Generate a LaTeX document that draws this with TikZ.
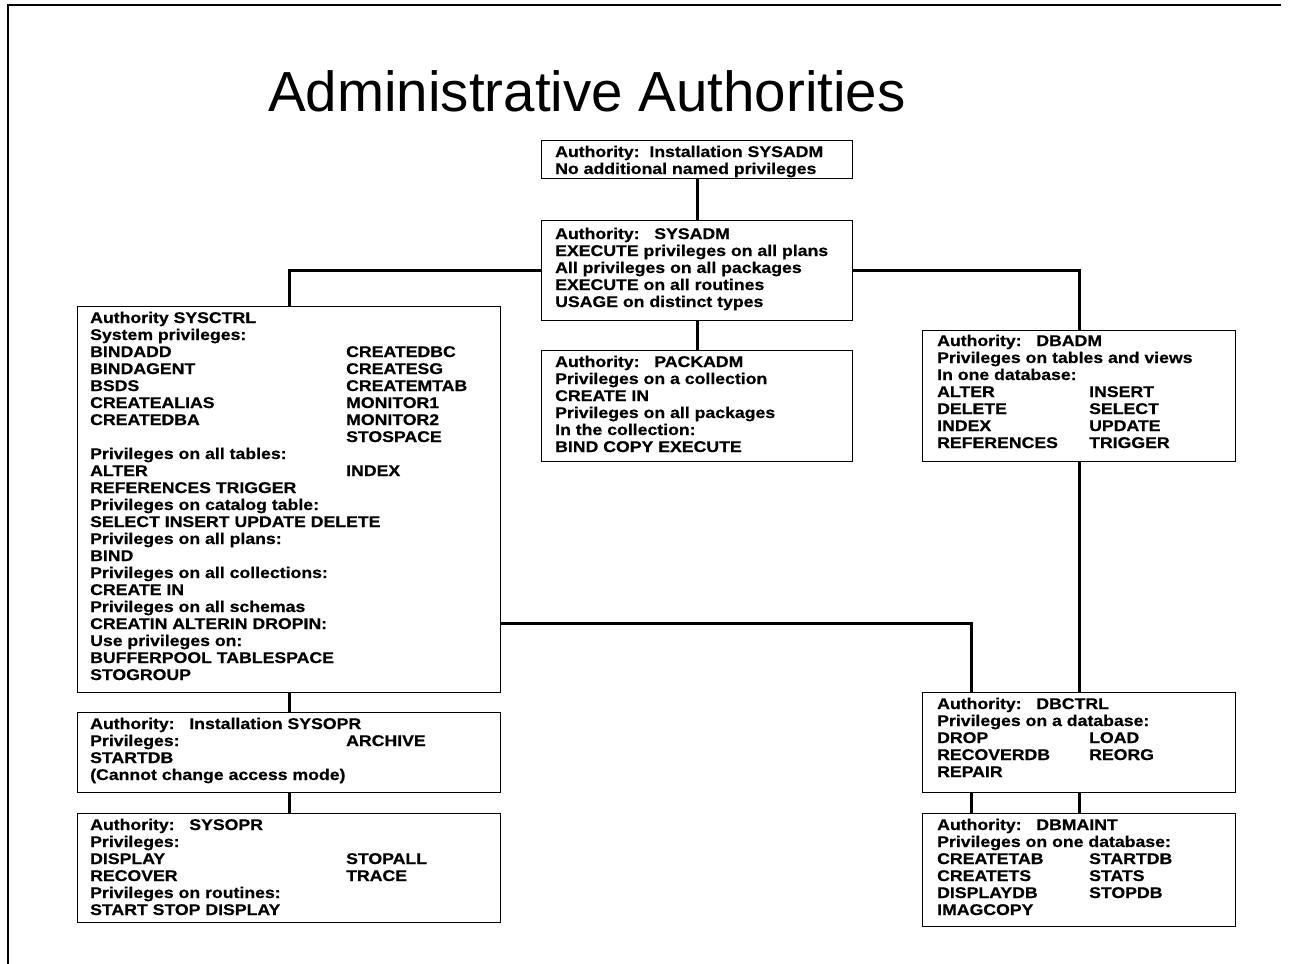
\documentclass[tikz,border=0pt]{standalone}
\usepackage{fontspec}
\setmainfont{Liberation Sans}
\newfontfamily\bodyfont[FakeStretch=1.14, BoldFeatures={FakeBold=0.6}]{Liberation Sans}
\newfontfamily\titlefont{Liberation Sans}
\usetikzlibrary{calc}
% two-column line: left entry padded to a fixed width, then the right entry
\newcommand\twocol[3]{\makebox[#1][l]{#2}#3}
% top-aligned block of lines; the node's base is the first line's baseline
\newcommand\lines[1]{\parbox[t]{420pt}{#1}}

\begin{document}
\begin{tikzpicture}[x=1pt,y=-1pt,
  authbox/.style={draw, line width=1.3pt, inner sep=0pt, anchor=north west},
  authtext/.style={anchor=base west, inner sep=0pt,
    font=\bodyfont\bfseries\fontsize{15.5}{17}\selectfont},
  link/.style={line width=3pt}]

\useasboundingbox (0,0) rectangle (1291,964);

% page frame (top and left edges)
\coordinate (frameBL) at (8,964);
\coordinate (frameTL) at (8,5);
\coordinate (frameTR) at (1281,5);
\draw[line width=1.5pt] (frameBL) -- (frameTL) -- (frameTR);

% title
\node[anchor=base west, inner sep=0pt,
      font=\titlefont\fontsize{56.5}{62}\selectfont] (title) at (268,111)
  {Administrative Authorities};

% ---- boxes ----
\node[authbox, minimum width=311pt, minimum height=38pt]  (isysadm) at (541,140) {};
\node[authbox, minimum width=311pt, minimum height=100pt] (sysadm)  at (541,220) {};
\node[authbox, minimum width=423pt, minimum height=386pt] (sysctrl) at (77,306)  {};
\node[authbox, minimum width=311pt, minimum height=111pt] (packadm) at (541,350) {};
\node[authbox, minimum width=313pt, minimum height=131pt] (dbadm)   at (922,330) {};
\node[authbox, minimum width=423pt, minimum height=80pt]  (isysopr) at (77,712)  {};
\node[authbox, minimum width=423pt, minimum height=109pt] (sysopr)  at (77,813)  {};
\node[authbox, minimum width=313pt, minimum height=100pt] (dbctrl)  at (922,692) {};
\node[authbox, minimum width=313pt, minimum height=113pt] (dbmaint) at (922,813) {};

% ---- box contents ----
\node[authtext] (isysadm-t) at (555,157) {\lines{%
Authority:\ \ Installation SYSADM\\
No additional named privileges}};

\node[authtext] (sysadm-t) at (555,239) {\lines{%
Authority:\ \ \ SYSADM\\
EXECUTE privileges on all plans\\
All privileges on all packages\\
EXECUTE on all routines\\
USAGE on distinct types}};

\node[authtext] (sysctrl-t) at (90,323) {\lines{%
Authority SYSCTRL\\
System privileges:\\
\twocol{256pt}{BINDADD}{CREATEDBC}\\
\twocol{256pt}{BINDAGENT}{CREATESG}\\
\twocol{256pt}{BSDS}{CREATEMTAB}\\
\twocol{256pt}{CREATEALIAS}{MONITOR1}\\
\twocol{256pt}{CREATEDBA}{MONITOR2}\\
\twocol{256pt}{}{STOSPACE}\\
Privileges on all tables:\\
\twocol{256pt}{ALTER}{INDEX}\\
REFERENCES TRIGGER\\
Privileges on catalog table:\\
SELECT INSERT UPDATE DELETE\\
Privileges on all plans:\\
BIND\\
Privileges on all collections:\\
CREATE IN\\
Privileges on all schemas\\
CREATIN ALTERIN DROPIN:\\
Use privileges on:\\
BUFFERPOOL TABLESPACE\\
STOGROUP}};

\node[authtext] (packadm-t) at (555,367) {\lines{%
Authority:\ \ \ PACKADM\\
Privileges on a collection\\
CREATE IN\\
Privileges on all packages\\
In the collection:\\
BIND COPY EXECUTE}};

\node[authtext] (dbadm-t) at (937,346) {\lines{%
Authority:\ \ \ DBADM\\
Privileges on tables and views\\
In one database:\\
\twocol{152pt}{ALTER}{INSERT}\\
\twocol{152pt}{DELETE}{SELECT}\\
\twocol{152pt}{INDEX}{UPDATE}\\
\twocol{152pt}{REFERENCES}{TRIGGER}}};

\node[authtext] (isysopr-t) at (90,729) {\lines{%
Authority:\ \ \ Installation SYSOPR\\
\twocol{256pt}{Privileges:}{ARCHIVE}\\
STARTDB\\
(Cannot change access mode)}};

\node[authtext] (sysopr-t) at (90,830) {\lines{%
Authority:\ \ \ SYSOPR\\
Privileges:\\
\twocol{256pt}{DISPLAY}{STOPALL}\\
\twocol{256pt}{RECOVER}{TRACE}\\
Privileges on routines:\\
START STOP DISPLAY}};

\node[authtext] (dbctrl-t) at (937,709) {\lines{%
Authority:\ \ \ DBCTRL\\
Privileges on a database:\\
\twocol{152pt}{DROP}{LOAD}\\
\twocol{152pt}{RECOVERDB}{REORG}\\
REPAIR}};

\node[authtext] (dbmaint-t) at (937,830) {\lines{%
Authority:\ \ \ DBMAINT\\
Privileges on one database:\\
\twocol{152pt}{CREATETAB}{STARTDB}\\
\twocol{152pt}{CREATETS}{STATS}\\
\twocol{152pt}{DISPLAYDB}{STOPDB}\\
IMAGCOPY}};

% ---- connectors ----
\draw[link] (isysadm.south) -- (sysadm.north);
\draw[link] (sysadm.west) -| (sysctrl.north);
\draw[link] (sysadm.east) -| (dbadm.north);
\draw[link] (sysadm.south) -- (packadm.north);
\draw[link] ($(sysctrl.north east)!0.82!(sysctrl.south east)$)
            -| ($(dbctrl.north west)!0.157!(dbctrl.north east)$);
\draw[link] (dbadm.south) -- (dbctrl.north);
\draw[link] (dbctrl.south) -- (dbmaint.north);
\draw[link] ($(dbctrl.south west)!0.157!(dbctrl.south east)$)
            -- ($(dbmaint.north west)!0.157!(dbmaint.north east)$);
\draw[link] (sysctrl.south) -- (isysopr.north);
\draw[link] (isysopr.south) -- (sysopr.north);
\end{tikzpicture}
\end{document}
